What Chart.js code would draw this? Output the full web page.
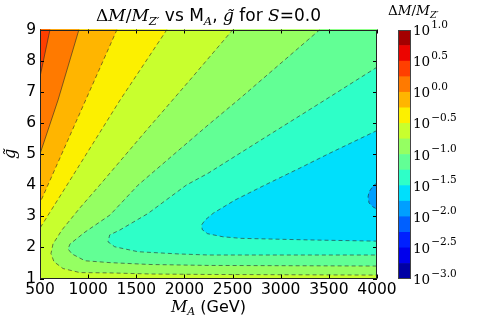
<!DOCTYPE html>
<html>
<head>
<meta charset="utf-8">
<script src="https://cdn.jsdelivr.net/npm/chart.js@4.4.0/dist/chart.umd.min.js"></script>
<style>
  html, body { margin: 0; padding: 0; background: #fff; }
  #wrap { position: relative; width: 491px; height: 327px; }
  #wrap canvas { position: absolute; left: 0; top: 0; }
</style>
</head>
<body>
<div id="wrap">
  <canvas id="plot" width="491" height="327"></canvas>
  <canvas id="cbar" width="491" height="327"></canvas>
</div>
<script>
// axes
const mATicks = [500, 1000, 1500, 2000, 2500, 3000, 3500, 4000];
const gTicks = [1, 2, 3, 4, 5, 6, 7, 8, 9];
// log10(dM/MZ') contour levels, and the labels on the colour bar
const levels = [-3.0, -2.75, -2.5, -2.25, -2.0, -1.75, -1.5, -1.25, -1.0, -0.75, -0.5, -0.25, 0.0, 0.25, 0.5, 0.75, 1.0];
const cbTicks = [-3.0, -2.5, -2.0, -1.5, -1.0, -0.5, 0.0, 0.5, 1.0];

// contour lines, as [M_A, g~]
// these run from the top edge down to the left edge
const c025 = [[604, 9], [500, 7.48]];
const c000 = [[905, 9], [687, 6.73], [500, 5.0]];
const cm025 = [[1300, 9], [500, 3.43]];
const cm050 = [[1819, 9], [1331, 6.73], [780, 4.0], [500, 2.62]];
// these wrap round the minimum and come out on the right edge
const cm075 = [[2504, 9], [2058, 7.38], [1591, 5.71], [1120, 4.0], [915, 3.27], [728, 2.56], [635, 2.11], [614, 1.80],
  [645, 1.54], [739, 1.32], [915, 1.19], [1227, 1.18], [1642, 1.145], [2245, 1.13], [4000, 1.11]];
const cm100 = [[3408, 9], [2556, 6.73], [2245, 5.93], [1518, 4.0], [1227, 3.04], [967, 2.49], [812, 2.11], [791, 1.95],
  [832, 1.79], [967, 1.57], [1227, 1.51], [1642, 1.45], [2245, 1.42], [4000, 1.40]];
const cm125 = [[4000, 7.79], [3457, 6.73], [2847, 5.55], [2245, 4.38], [2019, 4.0], [1622, 3.09], [1331, 2.56], [1224, 2.40],
  [1206, 2.18], [1276, 2.02], [1518, 1.86], [1933, 1.79], [2245, 1.755], [4000, 1.755]];
const cm150 = [[4000, 5.755], [3512, 5.03], [3200, 4.55], [2834, 4.0], [2525, 3.52], [2300, 3.1], [2215, 2.88], [2178, 2.72],
  [2185, 2.57], [2240, 2.44], [2400, 2.34], [2588, 2.29], [3283, 2.24], [4000, 2.20]];
const cm175 = [[4000, 4.07], [3958, 3.97], [3917, 3.78], [3907, 3.62], [3917, 3.43], [3958, 3.30], [4000, 3.23]];

// jet, one colour per band between two levels (bottom band first)
const bandColors = ['#0000a4', '#0000ec', '#0020ff', '#0060ff', '#009fff', '#00dffc', '#2effc8', '#62ff95',
  '#95ff62', '#c8ff2e', '#fcf000', '#ffb500', '#ff7a00', '#ff3f00', '#ec0400', '#a40000'];

const SERIF = '"DejaVu Serif"', SANS = '"DejaVu Sans"';

// points outside the axes, clipped away; used to close the filled shapes
const X0 = 0, X1 = 5000, G0 = 0, G1 = 10;
const xy = p => ({ x: p[0], y: p[1] });
// area above a line that goes top edge -> left edge
function wedge(c) {
  const t = c[0], l = c[c.length - 1];
  return [[X0, G1], [X0, l[1]], ...c.slice().reverse(), [t[0], G1]].map(xy);
}
// area inside a line that starts on the top/right edge and ends on the right edge
function pocket(c) {
  const u = c[0], l = c[c.length - 1];
  const up = u[1] >= 9 ? [u[0], G1] : [X1, u[1]];
  return [[X0, G0], [X1, G0], [X1, l[1]], ...c.slice().reverse(), up, [X1, G1], [X1, G0]].map(xy);
}

const regions = [
  { pts: [[X0, G0], [X0, G1], [X1, G1], [X1, G0]].map(xy), band: 9 },
  { pts: wedge(cm050), band: 10 },
  { pts: wedge(cm025), band: 11 },
  { pts: wedge(c000), band: 12 },
  { pts: wedge(c025), band: 13 },
  { pts: pocket(cm075), band: 8 },
  { pts: pocket(cm100), band: 7 },
  { pts: pocket(cm125), band: 6 },
  { pts: pocket(cm150), band: 5 },
  { pts: pocket(cm175), band: 4 },
];
const lines = [
  { c: c025, lv: 0.25 }, { c: c000, lv: 0.0 }, { c: cm025, lv: -0.25 }, { c: cm050, lv: -0.5 },
  { c: cm075, lv: -0.75 }, { c: cm100, lv: -1.0 }, { c: cm125, lv: -1.25 }, { c: cm150, lv: -1.5 }, { c: cm175, lv: -1.75 },
];

const datasets = [];
regions.forEach(r => datasets.push({
  data: r.pts, showLine: true, fill: 'shape', backgroundColor: bandColors[r.band],
  borderWidth: 0, borderColor: 'rgba(0,0,0,0)', pointRadius: 0, tension: 0,
}));
lines.forEach(l => datasets.push({
  data: l.c.map(xy), showLine: true, fill: false, borderColor: 'rgba(40,40,40,0.6)', borderWidth: 1,
  borderDash: l.lv < 0 ? [4, 3] : [], pointRadius: 0, tension: 0,
}));
datasets.forEach((d, i) => { d.order = datasets.length - i; });

// text with sub/superscripts
function rich(ctx, parts, x, y, align) {
  let w = 0;
  parts.forEach(p => { ctx.font = p.f; p.w = ctx.measureText(p.t).width; w += p.w; });
  let cx = align === 'left' ? x : x - w / 2;
  ctx.textAlign = 'left';
  ctx.textBaseline = 'alphabetic';
  parts.forEach(p => {
    ctx.font = p.f;
    ctx.fillText(p.t, cx, y + (p.dy || 0));
    if (p.tilde !== undefined) {
      const tw = ctx.measureText('˜').width;
      ctx.fillText('˜', cx + (p.w - tw) / 2 + 1, y + p.tilde);
    }
    cx += p.w;
  });
}

const decor = {
  id: 'decor',
  afterDraw(chart) {
    const { ctx, chartArea: a, scales } = chart;
    ctx.save();
    ctx.strokeStyle = '#000';
    ctx.lineWidth = 1;
    ctx.beginPath();
    mATicks.forEach(v => {
      const x = Math.round(scales.x.getPixelForValue(v)) + 0.5;
      ctx.moveTo(x, a.bottom); ctx.lineTo(x, a.bottom - 4);
      ctx.moveTo(x, a.top); ctx.lineTo(x, a.top + 4);
    });
    gTicks.forEach(v => {
      const y = Math.round(scales.y.getPixelForValue(v)) + 0.5;
      ctx.moveTo(a.left, y); ctx.lineTo(a.left + 4, y);
      ctx.moveTo(a.right, y); ctx.lineTo(a.right - 4, y);
    });
    ctx.stroke();
    ctx.strokeStyle = '#222';
    ctx.strokeRect(Math.round(a.left) + 0.5, Math.round(a.top) + 0.5,
      Math.round(a.right - a.left) - 1, Math.round(a.bottom - a.top) - 1);

    ctx.fillStyle = '#000';
    const T = 17, S = 11.5;
    rich(ctx, [
      { t: 'Δ', f: `${T}px ${SERIF}` },
      { t: 'M', f: `italic ${T}px ${SERIF}` },
      { t: '/', f: `${T}px ${SERIF}` },
      { t: 'M', f: `italic ${T}px ${SERIF}` },
      { t: 'Z′', f: `italic ${S}px ${SERIF}`, dy: 3.5 },
      { t: ' vs M', f: `${T}px ${SANS}` },
      { t: 'A', f: `italic ${S}px ${SERIF}`, dy: 3.5 },
      { t: ', ', f: `${T}px ${SANS}` },
      { t: 'g', f: `italic ${T}px ${SERIF}`, tilde: 1 },
      { t: ' for ', f: `${T}px ${SANS}` },
      { t: 'S', f: `italic ${T}px ${SERIF}` },
      { t: '=0.0', f: `${T}px ${SANS}` },
    ], (a.left + a.right) / 2, 21);

    rich(ctx, [
      { t: 'M', f: `italic 16px ${SERIF}` },
      { t: 'A', f: `italic 11px ${SERIF}`, dy: 3 },
      { t: ' (GeV)', f: `16px ${SANS}` },
    ], (a.left + a.right) / 2, 312);

    ctx.translate(15, (a.top + a.bottom) / 2);
    ctx.rotate(-Math.PI / 2);
    rich(ctx, [{ t: 'g', f: `italic 16px ${SERIF}`, tilde: 1 }], 0, 0);
    ctx.restore();
  }
};

const tickFont = { family: SANS, size: 15.5 };
new Chart(document.getElementById('plot'), {
  type: 'scatter',
  data: { datasets },
  options: {
    responsive: false,
    animation: false,
    events: [],
    layout: { padding: { left: 0, top: 29.5, right: 114, bottom: 0 } },
    plugins: { legend: { display: false }, tooltip: { enabled: false } },
    scales: {
      x: {
        type: 'linear', min: 500, max: 4000,
        afterBuildTicks: s => { s.ticks = mATicks.map(v => ({ value: v })); },
        ticks: { font: tickFont, color: '#000', padding: 2, maxRotation: 0, autoSkip: false, callback: v => String(v) },
        grid: { display: false, drawTicks: false },
        border: { display: false },
        afterFit: s => { s.height = 48.5; },
      },
      y: {
        type: 'linear', min: 1, max: 9,
        afterBuildTicks: s => { s.ticks = gTicks.map(v => ({ value: v })); },
        ticks: { font: tickFont, color: '#000', padding: 4, autoSkip: false, callback: v => String(v) },
        grid: { display: false, drawTicks: false },
        border: { display: false },
        afterFit: s => { s.width = 40; },
      },
    },
  },
  plugins: [decor],
});

// colour bar
const cbarDecor = {
  id: 'cbarDecor',
  afterDraw(chart) {
    const { ctx, chartArea: a, scales } = chart;
    ctx.save();
    ctx.strokeStyle = '#444';
    ctx.lineWidth = 1;
    ctx.strokeRect(Math.round(a.left) + 0.5, Math.round(a.top) + 0.5,
      Math.round(a.right - a.left) - 1, Math.round(a.bottom - a.top) - 1);
    ctx.fillStyle = '#000';
    ctx.textAlign = 'left';
    ctx.textBaseline = 'alphabetic';
    cbTicks.forEach(t => {
      const y = scales.y.getPixelForValue(t);
      ctx.font = `13.5px ${SERIF}`;
      ctx.fillText('10', a.right + 2, y + 5);
      const w = ctx.measureText('10').width;
      ctx.font = `10.5px ${SERIF}`;
      ctx.fillText(t.toFixed(1).replace('-', '−'), a.right + 3 + w, y - 2.5);
    });
    rich(ctx, [
      { t: 'Δ', f: `13.5px ${SERIF}` },
      { t: 'M', f: `italic 13.5px ${SERIF}` },
      { t: '/', f: `13.5px ${SERIF}` },
      { t: 'M', f: `italic 13.5px ${SERIF}` },
      { t: 'Z′', f: `italic 9.5px ${SERIF}`, dy: 3 },
    ], 388, 15, 'left');
    ctx.restore();
  }
};

new Chart(document.getElementById('cbar'), {
  type: 'bar',
  data: {
    labels: [''],
    datasets: bandColors.map((c, i) => ({
      data: [[levels[i], levels[i + 1]]], backgroundColor: c, borderWidth: 0,
      grouped: false, barPercentage: 1, categoryPercentage: 1,
    })),
  },
  options: {
    responsive: false,
    animation: false,
    events: [],
    layout: { padding: { left: 398, right: 80, top: 30, bottom: 48 } },
    plugins: { legend: { display: false }, tooltip: { enabled: false } },
    scales: {
      x: { display: false },
      y: { display: false, min: -3, max: 1 },
    },
  },
  plugins: [cbarDecor],
});
</script>
</body>
</html>
